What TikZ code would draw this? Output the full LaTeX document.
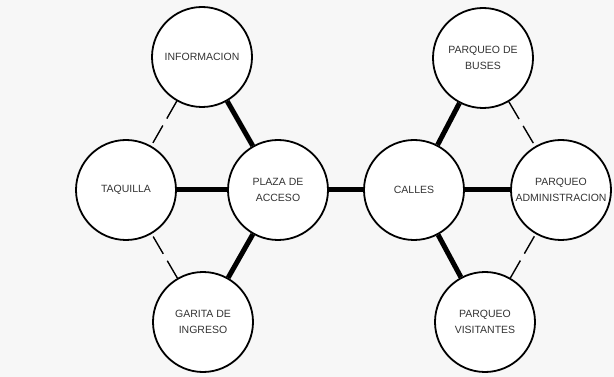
\documentclass[tikz,border=0pt]{standalone}
\usepackage{fontspec}
\setmainfont{Liberation Sans}
\begin{document}
\begin{tikzpicture}[x=1pt,y=-1pt,
  area/.style={circle,draw=black,line width=1.8pt,fill=white,minimum size=100pt,inner sep=0pt,
    align=center,text=black!80,font=\fontsize{10.5}{15.5}\selectfont},
  strong/.style={line width=5pt,draw=black},
  weak/.style={line width=1.4pt,draw=black,dash pattern=on 20pt off 8pt}]
\fill[black!3] (0,0) rectangle (614,377);
\useasboundingbox (0,0) rectangle (614,377);
\node[area] (info) at (202,57) {INFORMACION};
\node[area] (taq) at (126,190) {TAQUILLA};
\node[area] (plaza) at (278,190) {PLAZA DE\\ACCESO};
\node[area] (garita) at (203,322) {GARITA DE\\INGRESO};
\node[area] (calles) at (414,190) {CALLES};
\node[area] (buses) at (483,58) {PARQUEO DE\\BUSES};
\node[area] (admin) at (561,190) {PARQUEO\\ADMINISTRACION};
\node[area] (visit) at (485,322) {PARQUEO\\VISITANTES};
\draw[strong] (plaza) -- (info);
\draw[strong] (plaza) -- (garita);
\draw[strong] (taq) -- (plaza);
\draw[strong] (plaza) -- (calles);
\draw[strong] (calles) -- (buses);
\draw[strong] (calles) -- (admin);
\draw[strong] (calles) -- (visit);
\draw[weak] (info) -- (taq);
\draw[weak] (garita) -- (taq);
\draw[weak] (buses) -- (admin);
\draw[weak] (visit) -- (admin);
\end{tikzpicture}
\end{document}
